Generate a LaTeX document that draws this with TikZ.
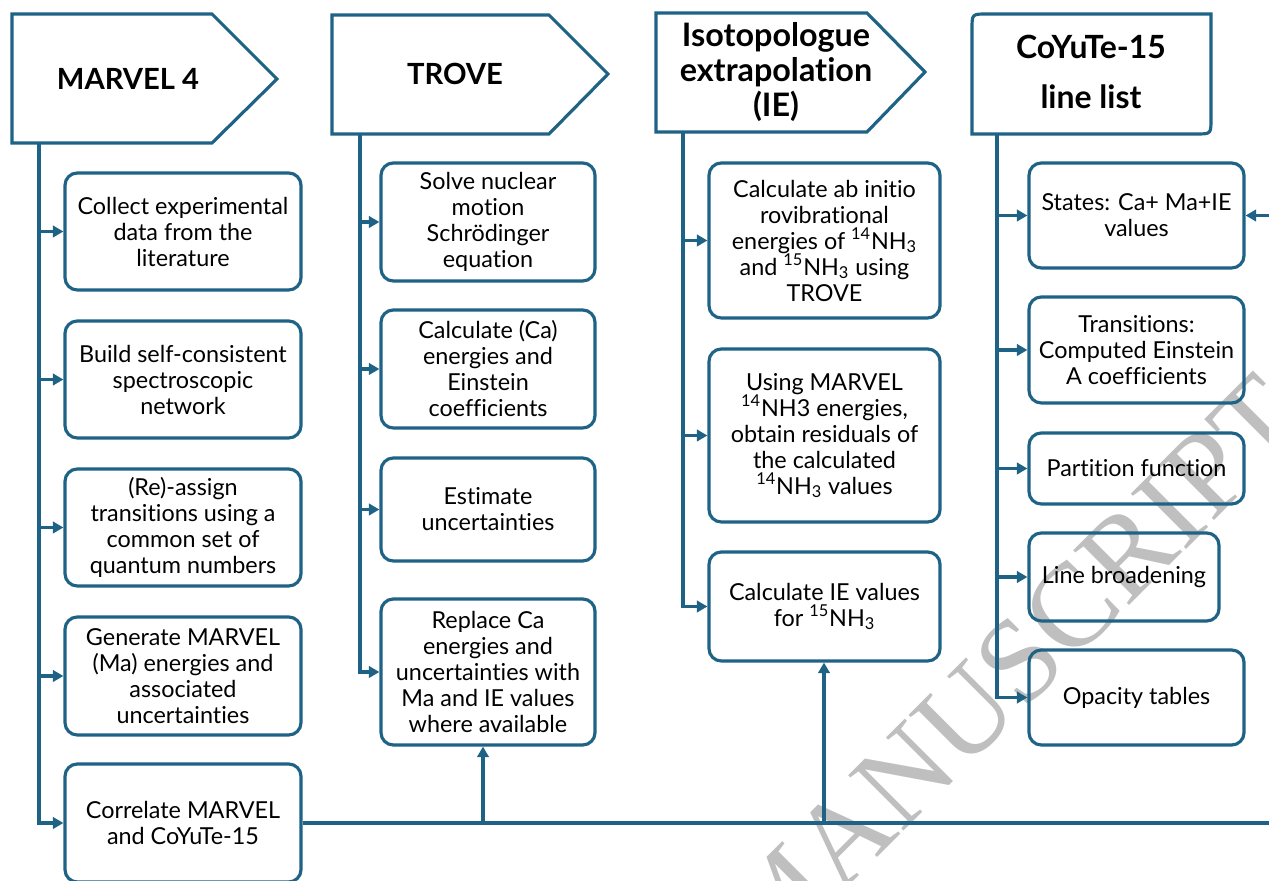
\documentclass[tikz,border=0pt]{standalone}
\usepackage{fontspec}
\setmainfont{Lato}[Ligatures=NoCommon]
\newfontfamily\wmfont{Liberation Serif}
\usetikzlibrary{arrows.meta}
\definecolor{flowblue}{RGB}{30,98,133}
\begin{document}
\begin{tikzpicture}[x=0.02cm,y=-0.02cm,
  box/.style={draw=flowblue, line width=1.8pt, rounded corners=7pt, align=center, inner sep=0pt,
    font=\fontsize{13.3}{14.8}\selectfont},
  sz/.style 2 args={minimum width=#1*0.02cm, minimum height=#2*0.02cm},
  conn/.style={draw=flowblue, line width=2pt},
  arr/.style={conn, -{Triangle[length=6pt,width=6.5pt]}},
  head/.style={draw=flowblue, line width=1.8pt},
  htext/.style={font=\fontsize{16.6}{20}\selectfont\bfseries, align=center, inner sep=0pt}
]
\useasboundingbox (0,0) rectangle (1269,881);

% watermark
\node[rotate=45, text=gray!50, font=\wmfont\fontsize{68}{68}\selectfont, inner sep=0pt] (wm) at (1010,670) {MANUSCRIPT};

% headers
\draw[head] (12,14) -- (212,14) -- (277,79) -- (212,143) -- (12,143) -- cycle;
\node[htext] (hm) at (128,79) {MARVEL 4};
\draw[head] (332,15) -- (549,15) -- (608,74) -- (549,134) -- (332,134) -- cycle;
\node[htext] (ht) at (455,74) {TROVE};
\draw[head] (656,13) -- (867,13) -- (925,72) -- (867,132) -- (656,132) -- cycle;
\node[htext, font=\fontsize{18.4}{20}\selectfont\bfseries] (hi) at (776,72) {Isotopologue\\extrapolation\\(IE)};
\draw[head] (987,14) -- (1211,14) -- (1211,119) .. controls (1211,134) .. (1196,134) -- (972,134) -- (972,29) .. controls (972,14) .. (987,14) -- cycle;
\node[htext, font=\fontsize{18.2}{28.5}\selectfont\bfseries] (hc) at (1091,72) {CoYuTe-15\\line list};

\coordinate (tM) at (39,143);
\coordinate (tT) at (360,134);
\coordinate (tI) at (683,132);
\coordinate (tC) at (997,134);

% MARVEL column
\node[box, sz={236}{117}] (m1) at (183,231.5) {Collect experimental\\data from the\\literature};
\node[box, sz={236}{117}] (m2) at (183,379.5) {Build self-consistent\\spectroscopic\\network};
\node[box, sz={236}{117}] (m3) at (183,527.5) {(Re)-assign\\transitions using a\\common set of\\quantum numbers};
\node[box, sz={236}{118}] (m4) at (183,676) {Generate MARVEL\\(Ma) energies and\\associated\\uncertainties};
\node[box, sz={236}{118}] (m5) at (183,823) {Correlate MARVEL\\and CoYuTe-15};

% TROVE column
\node[box, sz={214}{118}] (t1) at (488,222) {Solve nuclear\\motion\\Schrödinger\\equation};
\node[box, sz={214}{118}] (t2) at (488,369) {Calculate (Ca)\\energies and\\Einstein\\coefficients};
\node[box, sz={214}{103}] (t3) at (488,509.5) {Estimate\\uncertainties};
\node[box, sz={214}{146}] (t4) at (488,672) {Replace Ca\\energies and\\uncertainties with\\Ma and IE values\\where available};

% IE column
\node[box, sz={231}{155}] (i1) at (824.5,240.5) {Calculate ab initio\\rovibrational\\energies of \textsuperscript{14}NH\textsubscript{3}\\and \textsuperscript{15}NH\textsubscript{3} using\\TROVE};
\node[box, sz={231}{173}] (i2) at (824.5,435.5) {Using MARVEL\\\textsuperscript{14}NH3 energies,\\obtain residuals of\\the calculated\\\textsuperscript{14}NH\textsubscript{3} values};
\node[box, sz={231}{109}] (i3) at (824.5,606.5) {Calculate IE values\\for \textsuperscript{15}NH\textsubscript{3}};

% CoYuTe column
\node[box, sz={215}{105}] (c1) at (1136.5,215.5) {States: Ca+ Ma+IE\\values};
\node[box, sz={215}{106}] (c2) at (1136.5,350) {Transitions:\\Computed Einstein\\A coefficients};
\node[box, sz={215}{71}] (c3) at (1136.5,468.5) {Partition function};
\node[box, sz={190}{88}] (c4) at (1124,577) {Line broadening};
\node[box, sz={215}{95}] (c5) at (1136.5,697.5) {Opacity tables};

% trunks and branches
\draw[arr] (tM) |- (m5.west);
\foreach \n in {m1,m2,m3,m4} \draw[arr] (tM |- \n.west) -- (\n.west);
\draw[arr] (tT) |- (t4.west);
\foreach \n in {t1,t2,t3} \draw[arr] (tT |- \n.west) -- (\n.west);
\draw[arr] (tI) |- (i3.west);
\foreach \n in {i1,i2} \draw[arr] (tI |- \n.west) -- (\n.west);
\draw[arr] (tC) |- (c5.west);
\foreach \n in {c1,c2,c3,c4} \draw[arr] (tC |- \n.west) -- (\n.west);

% bottom bus
\coordinate (rb) at (1290,823);
\coordinate (jT) at (483,823);
\coordinate (jI) at (824,823);
\draw[arr] (m5.east) -- (rb) |- (c1.east);
\draw[arr] (jT) -- (jT |- t4.south);
\draw[arr] (jI) -- (jI |- i3.south);
\end{tikzpicture}
\end{document}
